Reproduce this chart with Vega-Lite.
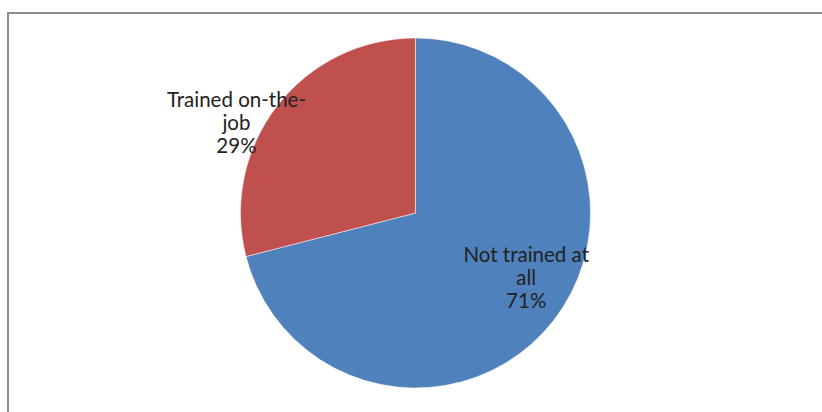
{
  "$schema": "https://vega.github.io/schema/vega-lite/v6.json",
  "width": 815,
  "height": 400,
  "padding": {"left": 7, "top": 12, "right": 0, "bottom": 0},
  "background": "white",
  "data": {
    "values": [
      {"category": "Not trained at all", "value": 71, "label": "Not trained at\nall\n71%"},
      {"category": "Trained on-the-job", "value": 29, "label": "Trained on-the-\njob\n29%"}
    ]
  },
  "layer": [
    {
      "mark": {"type": "rect", "fill": null, "fillOpacity": 0, "stroke": "#8c8c8c", "strokeWidth": 2, "strokeDash": [815, 1215, 400]},
      "encoding": {}
    },
    {
      "mark": {"type": "arc", "outerRadius": 175, "stroke": "white", "strokeWidth": 0.5},
      "encoding": {
        "theta": {"field": "value", "type": "quantitative", "stack": true},
        "color": {
          "field": "category",
          "type": "nominal",
          "scale": {"domain": ["Not trained at all", "Trained on-the-job"], "range": ["#4F81BD", "#C0504D"]},
          "legend": null
        }
      }
    },
    {
      "mark": {"type": "text", "radius": 200, "dx": -21, "dy": 11, "font": "Lato", "fontSize": 20.5, "lineBreak": "\n", "lineHeight": 23, "align": "center", "baseline": "middle", "fill": "#222222"},
      "encoding": {
        "theta": {"field": "value", "type": "quantitative", "stack": true},
        "text": {"condition": {"test": "datum.category == 'Trained on-the-job'", "field": "label"}, "value": ""}
      }
    },
    {
      "mark": {"type": "text", "radius": 130, "dx": 8, "dy": -37, "font": "Lato", "fontSize": 20.5, "lineBreak": "\n", "lineHeight": 23, "align": "center", "baseline": "middle", "fill": "#222222"},
      "encoding": {
        "theta": {"field": "value", "type": "quantitative", "stack": true},
        "text": {"condition": {"test": "datum.category == 'Not trained at all'", "field": "label"}, "value": ""}
      }
    }
  ]
}
